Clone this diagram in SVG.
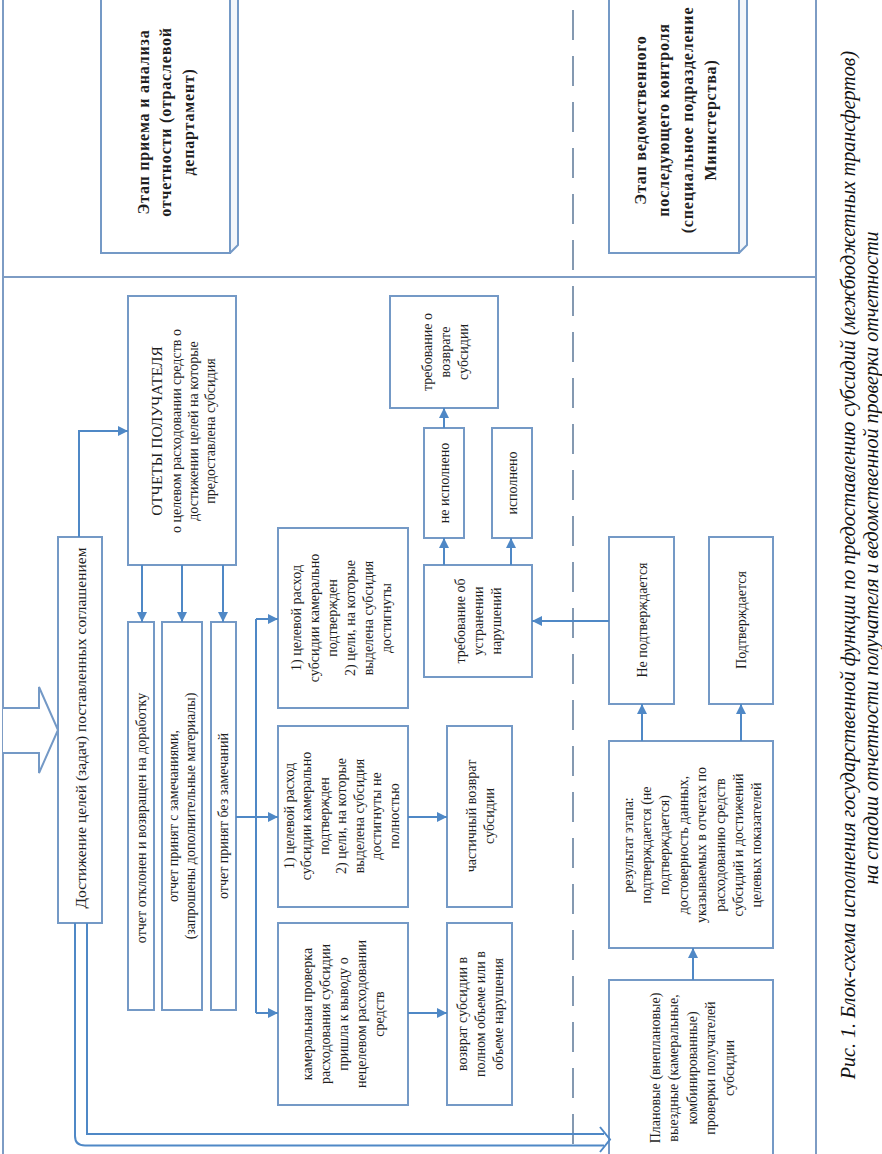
<svg xmlns="http://www.w3.org/2000/svg" width="882" height="1154" viewBox="0 0 882 1154">
<defs>
<marker id="ah" viewBox="0 0 10 10" refX="10" refY="5" markerWidth="10" markerHeight="10" markerUnits="userSpaceOnUse" orient="auto">
<path d="M0,0 L10,5 L0,10 z" fill="#4f88c6"/>
</marker>
</defs>
<style>
.box{fill:#fff;stroke:#7499c6;stroke-width:2}
.side{fill:#f3f6fa;stroke:#7499c6;stroke-width:2;stroke-linejoin:round}
.frame{fill:none;stroke:#7d9cc4;stroke-width:2}
.dash{fill:none;stroke:#66809f;stroke-width:1.6;stroke-dasharray:30 16}
.c{fill:none;stroke:#4f88c6;stroke-width:2}
.ca{fill:none;stroke:#4f88c6;stroke-width:2;marker-end:url(#ah)}
.t{font-family:"Liberation Serif","Times New Roman",serif;font-size:14px;fill:#1e1e1e;text-anchor:middle;dominant-baseline:central}
.h{font-size:15.5px}
.d{font-size:15.5px}
.b{font-weight:bold;font-size:16px;letter-spacing:0.8px}
.cap{font-family:"Liberation Serif","Times New Roman",serif;font-style:italic;font-size:20px;fill:#111;text-anchor:middle;dominant-baseline:central}
</style>
<rect width="882" height="1154" fill="#fff"/>

<g id="frame">
<path class="frame" d="M3,0 V1154 M816,0 V1154 M3,277 H816"/>
<path class="dash" d="M573,10 V1154"/>
</g>

<g id="stage1">
<rect class="box" x="101" y="-10" width="129" height="263"/>
<path class="side" d="M230,-10 L238,-18 L238,245 L230,253 Z"/>
<g class="t b">
<text transform="translate(143,122) rotate(-90)">Этап приема и анализа</text>
<text transform="translate(165.5,122) rotate(-90)">отчетности (отраслевой</text>
<text transform="translate(188,122) rotate(-90)">департамент)</text>
</g>
</g>

<g id="stage2">
<rect class="box" x="609" y="-10" width="130" height="263"/>
<path class="side" d="M739,-10 L747,-18 L747,245 L739,253 Z"/>
<g class="t b">
<text transform="translate(640,120) rotate(-90)">Этап ведомственного</text>
<text transform="translate(663,120) rotate(-90)">последующего контроля</text>
<text transform="translate(687,120) rotate(-90)">(специальное подразделение</text>
<text transform="translate(710,120) rotate(-90)">Министерства)</text>
</g>
</g>

<g id="bigarrow">
<path d="M3,708 H39 V687 L58,730 L39,773 V753 H3" fill="#fff" stroke="#7499c6" stroke-width="2"/>
</g>

<g id="dost">
<rect class="box" x="58" y="537" width="44" height="386"/>
<text class="t d" transform="translate(80,728) rotate(-90)">Достижение целей (задач) поставленных соглашением</text>
</g>

<g id="otchety">
<rect class="box" x="128" y="296" width="108" height="269"/>
<g class="t">
<text class="h" transform="translate(156,431) rotate(-90)">ОТЧЕТЫ ПОЛУЧАТЕЛЯ</text>
<text transform="translate(176,431) rotate(-90)">о целевом расходовании средств о</text>
<text transform="translate(193,431) rotate(-90)">достижении целей на которые</text>
<text transform="translate(210,431) rotate(-90)">предоставлена субсидия</text>
</g>
</g>

<g id="r1">
<rect class="box" x="128" y="622" width="26" height="388"/>
<text class="t" transform="translate(141,818) rotate(-90)">отчет отклонен и возвращен на доработку</text>
</g>
<g id="r2">
<rect class="box" x="162" y="622" width="40" height="388"/>
<g class="t">
<text transform="translate(173,816) rotate(-90)">отчет принят с замечаниями,</text>
<text transform="translate(190,816) rotate(-90)">(запрошены дополнительные материалы)</text>
</g>
</g>
<g id="r3">
<rect class="box" x="211" y="622" width="25" height="388"/>
<text class="t" transform="translate(223.5,816) rotate(-90)">отчет принят без замечаний</text>
</g>

<g id="boxA">
<rect class="box" x="278" y="528" width="130" height="180"/>
<g class="t">
<text transform="translate(296,618) rotate(-90)">1) целевой расход</text>
<text transform="translate(314,618) rotate(-90)">субсидии камерально</text>
<text transform="translate(332,618) rotate(-90)">подтвержден</text>
<text transform="translate(350,618) rotate(-90)">2) цели, на которые</text>
<text transform="translate(368,618) rotate(-90)">выделена субсидия</text>
<text transform="translate(386,618) rotate(-90)">достигнуты</text>
</g>
</g>

<g id="boxB">
<rect class="box" x="278" y="726" width="130" height="181"/>
<g class="t">
<text transform="translate(289,816) rotate(-90)">1) целевой расход</text>
<text transform="translate(306.5,816) rotate(-90)">субсидии камерально</text>
<text transform="translate(324,816) rotate(-90)">подтвержден</text>
<text transform="translate(341.5,816) rotate(-90)">2) цели, на которые</text>
<text transform="translate(359,816) rotate(-90)">выделена субсидия</text>
<text transform="translate(376.5,816) rotate(-90)">достигнуты не</text>
<text transform="translate(394,816) rotate(-90)">полностью</text>
</g>
</g>

<g id="boxC">
<rect class="box" x="278" y="923" width="130" height="182"/>
<g class="t">
<text transform="translate(307,1014) rotate(-90)">камеральная проверка</text>
<text transform="translate(325,1014) rotate(-90)">расходования субсидии</text>
<text transform="translate(343,1014) rotate(-90)">пришла к выводу о</text>
<text transform="translate(361,1014) rotate(-90)">нецелевом расходовании</text>
<text transform="translate(379,1014) rotate(-90)">средств</text>
</g>
</g>

<g id="partial">
<rect class="box" x="447" y="726" width="65" height="181"/>
<g class="t">
<text transform="translate(471,816) rotate(-90)">частичный возврат</text>
<text transform="translate(489,816) rotate(-90)">субсидии</text>
</g>
</g>

<g id="full">
<rect class="box" x="447" y="923" width="65" height="182"/>
<g class="t">
<text transform="translate(462,1014) rotate(-90)">возврат субсидии в</text>
<text transform="translate(480,1014) rotate(-90)">полном объеме или в</text>
<text transform="translate(498,1014) rotate(-90)">объеме нарушения</text>
</g>
</g>

<g id="trebUstr">
<rect class="box" x="424" y="565" width="108" height="112"/>
<g class="t">
<text transform="translate(460,621) rotate(-90)">требование об</text>
<text transform="translate(478,621) rotate(-90)">устранении</text>
<text transform="translate(496,621) rotate(-90)">нарушений</text>
</g>
</g>

<g id="neIsp">
<rect class="box" x="424" y="428" width="40" height="110"/>
<text class="t" transform="translate(444,483) rotate(-90)">не исполнено</text>
</g>
<g id="isp">
<rect class="box" x="492" y="428" width="40" height="110"/>
<text class="t" transform="translate(512,483) rotate(-90)">исполнено</text>
</g>

<g id="trebVozvr">
<rect class="box" x="390" y="296" width="108" height="112"/>
<g class="t">
<text transform="translate(427,352) rotate(-90)">требование о</text>
<text transform="translate(445,352) rotate(-90)">возврате</text>
<text transform="translate(463,352) rotate(-90)">субсидии</text>
</g>
</g>

<g id="nePodtv">
<rect class="box" x="609" y="537" width="65" height="167"/>
<text class="t" transform="translate(642,620) rotate(-90)">Не подтверждается</text>
</g>
<g id="podtv">
<rect class="box" x="709" y="537" width="64" height="167"/>
<text class="t" transform="translate(741,620) rotate(-90)">Подтверждается</text>
</g>

<g id="result">
<rect class="box" x="609" y="741" width="164" height="207"/>
<g class="t">
<text transform="translate(628,845) rotate(-90)">результат этапа:</text>
<text transform="translate(646.4,845) rotate(-90)">подтверждается (не</text>
<text transform="translate(664.8,845) rotate(-90)">подтверждается)</text>
<text transform="translate(683.2,845) rotate(-90)">достоверность данных,</text>
<text transform="translate(701.6,845) rotate(-90)">указываемых в отчетах по</text>
<text transform="translate(720,845) rotate(-90)">расходованию средств</text>
<text transform="translate(738.4,845) rotate(-90)">субсидий и достижений</text>
<text transform="translate(756.8,845) rotate(-90)">целевых показателей</text>
</g>
</g>

<g id="planovye">
<rect class="box" x="609" y="980" width="164" height="190"/>
<g class="t">
<text transform="translate(655,1068) rotate(-90)">Плановые (внеплановые)</text>
<text transform="translate(673.5,1068) rotate(-90)">выездные (камеральные,</text>
<text transform="translate(692,1068) rotate(-90)">комбинированные)</text>
<text transform="translate(710.5,1068) rotate(-90)">проверки получателей</text>
<text transform="translate(729,1068) rotate(-90)">субсидии</text>
</g>
</g>

<g id="connectors">
<path class="ca" d="M79,537 V431 H128"/>
<path class="ca" d="M142,565 V622"/>
<path class="ca" d="M182,565 V622"/>
<path class="ca" d="M223,565 V622"/>
<path class="ca" d="M236,817 H278"/>
<path class="c" d="M256,619 V1013"/>
<path class="ca" d="M256,619 H278"/>
<path class="ca" d="M256,1013 H278"/>
<path class="ca" d="M408,817 H447"/>
<path class="ca" d="M408,1013 H447"/>
<path class="ca" d="M444,565 V538"/>
<path class="ca" d="M511,565 V538"/>
<path class="ca" d="M444,428 V408"/>
<path class="ca" d="M609,621 H532"/>
<path class="ca" d="M642,741 V704"/>
<path class="ca" d="M741,741 V704"/>
<path class="ca" d="M693,980 V948"/>
<path class="c" d="M87,923 V1134 H604"/>
<path class="c" d="M75,923 V1136 Q75,1145.5 85,1145.5 H604"/>
<path class="c" d="M600,1127 L610,1139.5 L600,1152"/>
</g>

<g id="caption">
<text class="cap" transform="translate(848,565) rotate(-90)">Рис. 1. Блок-схема исполнения государственной функции по предоставлению субсидий (межбюджетных трансфертов)</text>
<text class="cap" transform="translate(871,558) rotate(-90)">на стадии отчетности получателя и ведомственной проверки отчетности</text>
</g>
</svg>
